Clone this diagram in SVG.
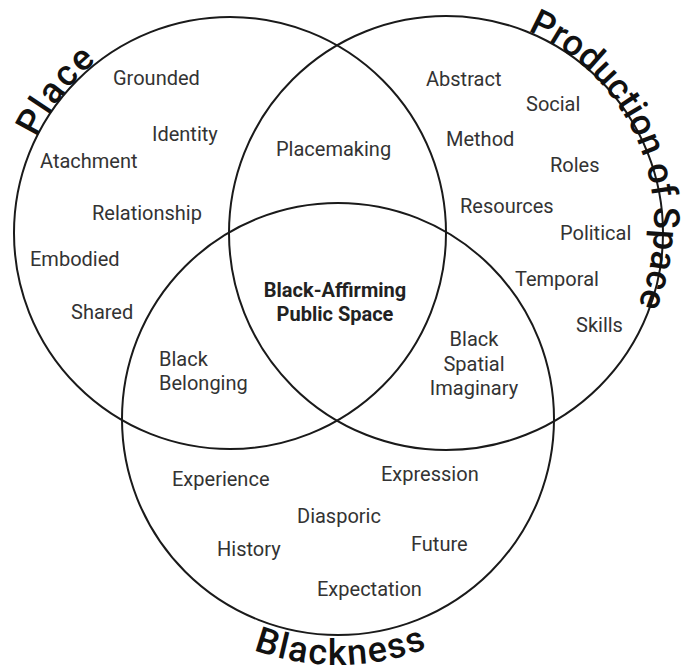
<svg xmlns="http://www.w3.org/2000/svg" width="681" height="669" viewBox="0 0 681 669">
<style>
.c{fill:none;stroke:#1a1a1a;stroke-width:2}
.t{font-family:Roboto,"Liberation Sans",sans-serif;font-size:20px;fill:#333}
.b{font-family:Roboto,"Liberation Sans",sans-serif;font-size:20px;font-weight:bold;fill:#222;text-anchor:middle}
.h{font-family:Roboto,"Liberation Sans",sans-serif;font-size:36px;font-weight:500;fill:#111}
</style>
<defs>
<path id="pPlace" d="M36.5,137.6 A220,220 0 0 1 192,16.3"/>
<path id="pProd" d="M527.7,30.9 A210,210 0 0 1 612.3,349.4"/>
<path id="pBlack" d="M196.9,620.5 A246,246 0 0 0 479.1,620.5"/>
</defs>
<rect width="681" height="669" fill="#fff"/>
<g id="circles">
<circle id="place-circle" class="c" cx="230" cy="233" r="216"/>
<circle id="production-circle" class="c" cx="446" cy="233" r="217"/>
<circle id="blackness-circle" class="c" cx="338" cy="419" r="216"/>
</g>
<g id="titles">
<text class="h" font-size="38" letter-spacing="2"><textPath href="#pPlace">Place</textPath></text>
<text class="h"><textPath href="#pProd">Production of Space</textPath></text>
<text class="h" font-size="39" letter-spacing="1.5" text-anchor="middle"><textPath href="#pBlack" startOffset="51%">Blackness</textPath></text>
</g>
<g id="place-terms">
<text class="t" x="113" y="85">Grounded</text>
<text class="t" x="152" y="141">Identity</text>
<text class="t" x="40" y="168">Atachment</text>
<text class="t" x="92" y="220">Relationship</text>
<text class="t" x="30" y="266">Embodied</text>
<text class="t" x="71" y="319">Shared</text>
</g>
<g id="production-terms">
<text class="t" x="426" y="86">Abstract</text>
<text class="t" x="526" y="111">Social</text>
<text class="t" x="446" y="146">Method</text>
<text class="t" x="550" y="172">Roles</text>
<text class="t" x="460" y="213">Resources</text>
<text class="t" x="560" y="240">Political</text>
<text class="t" x="515" y="286">Temporal</text>
<text class="t" x="576" y="332">Skills</text>
</g>
<g id="blackness-terms">
<text class="t" x="172" y="486">Experience</text>
<text class="t" x="381" y="481">Expression</text>
<text class="t" x="297" y="523">Diasporic</text>
<text class="t" x="217" y="556">History</text>
<text class="t" x="411" y="551">Future</text>
<text class="t" x="317" y="596">Expectation</text>
</g>
<g id="placemaking">
<text class="t" x="276" y="156">Placemaking</text>
</g>
<g id="black-belonging">
<text class="t" x="159" y="366">Black</text>
<text class="t" x="159" y="390">Belonging</text>
</g>
<g id="black-spatial-imaginary">
<text class="t" x="474" y="346" text-anchor="middle">Black</text>
<text class="t" x="474" y="371" text-anchor="middle">Spatial</text>
<text class="t" x="474" y="395" text-anchor="middle">Imaginary</text>
</g>
<g id="center">
<text class="b" x="335" y="297">Black-Affirming</text>
<text class="b" x="335" y="321">Public Space</text>
</g>
</svg>
